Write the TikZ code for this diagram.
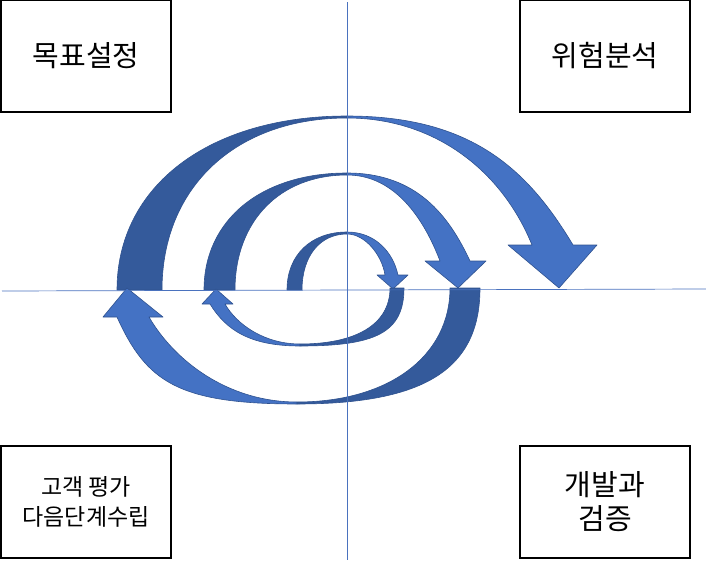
\documentclass[tikz,border=0pt]{standalone}
\usepackage{fontspec}
\setmainfont{Noto Sans CJK KR}
\usepackage{xcolor}
\definecolor{frontblue}{HTML}{4472C4}
\definecolor{backblue}{HTML}{345A9B}
\definecolor{edgeblue}{HTML}{2F528F}
\definecolor{axisblue}{HTML}{4A72BE}
\usepackage{tikz}
\usetikzlibrary{positioning}
\tikzset{
  stagebox/.style ={draw=black,line width=1.3pt,fill=white,inner sep=0pt,
                    minimum width=170pt,minimum height=112pt,align=center,
                    font=\fontsize{29}{34}\selectfont},
  axisline/.style ={draw=axisblue,line width=0.7pt},
  backband/.style ={fill=backblue,draw=edgeblue,line width=0.6pt,line join=round},
  frontband/.style={fill=frontblue,draw=edgeblue,line width=0.6pt,line join=round},
}

\begin{document}
\begin{tikzpicture}[x=1pt,y=-1pt]
\useasboundingbox (0,0) rectangle (706,562);
% four stages in the corners
\node[stagebox] (goal) at (86,56)  {목표설정};
\node[stagebox] (risk) at (605,56) {위험분석};
\node[stagebox,font=\fontsize{23}{30}\selectfont] (eval) at (86,502) {고객 평가\\다음단계수립};
\node[stagebox] (dev)  at (605,502) {개발과\\검증};
% upper spiral: back side first, then the front with its head
\path[backband] (117,290) .. controls (117,186) and (209,116) .. (347,116)
  -- (347,118) .. controls (236,118) and (162,187) .. (162,290) -- cycle;
\path[frontband] (347,116) .. controls (470,116) and (527,168) .. (573,245)
  -- (597,245) -- (559,288) -- (508,245) -- (532,245)
  .. controls (502,171) and (435,118) .. (347,118) -- cycle;
\path[backband] (204,290) .. controls (204,220) and (261,173) .. (347,173)
  -- (347,175) .. controls (280,175) and (235,221) .. (235,290) -- cycle;
\path[frontband] (347,173) .. controls (417,173) and (449,216) .. (470,261)
  -- (486,261) -- (458,288) -- (425,261) -- (440,261)
  .. controls (424,219) and (395,175) .. (347,175) -- cycle;
\path[backband] (287,290) .. controls (287,255) and (311,232) .. (347,232)
  -- (347,234) .. controls (320,234) and (302,256) .. (302,290) -- cycle;
\path[frontband] (347,232) .. controls (375,232) and (393,252) .. (398,275)
  -- (408,275) -- (393,289) -- (377,275) -- (385,275)
  .. controls (382,255) and (365,234) .. (347,234) -- cycle;
% lower spiral
\path[backband] (480,288) .. controls (480,369) and (425,404) .. (297,404)
  -- (297,402) .. controls (389,402) and (450,356) .. (450,288) -- cycle;
\path[frontband] (297,404) .. controls (177,404) and (146,381) .. (117,317)
  -- (103,317) -- (127,288) -- (163,317) -- (149,317)
  .. controls (174,360) and (227,402) .. (297,402) -- cycle;
\path[backband] (404,288) .. controls (404,333) and (375,346) .. (300,346)
  -- (300,344) .. controls (355,344) and (390,325) .. (390,288) -- cycle;
\path[frontband] (300,346) .. controls (250,346) and (226,330) .. (210,304)
  -- (202,304) -- (216,289) -- (233,304) -- (225,304)
  .. controls (237,325) and (265,344) .. (300,344) -- cycle;
% axes
\coordinate (west) at (2,291);
\coordinate (east) at (706,289);
\coordinate (north) at (347,2);
\coordinate (south) at (347,560);
\draw[axisline] (west) -- (east);
\draw[axisline,line width=0.5pt] (north) -- (south);
\end{tikzpicture}
\end{document}
